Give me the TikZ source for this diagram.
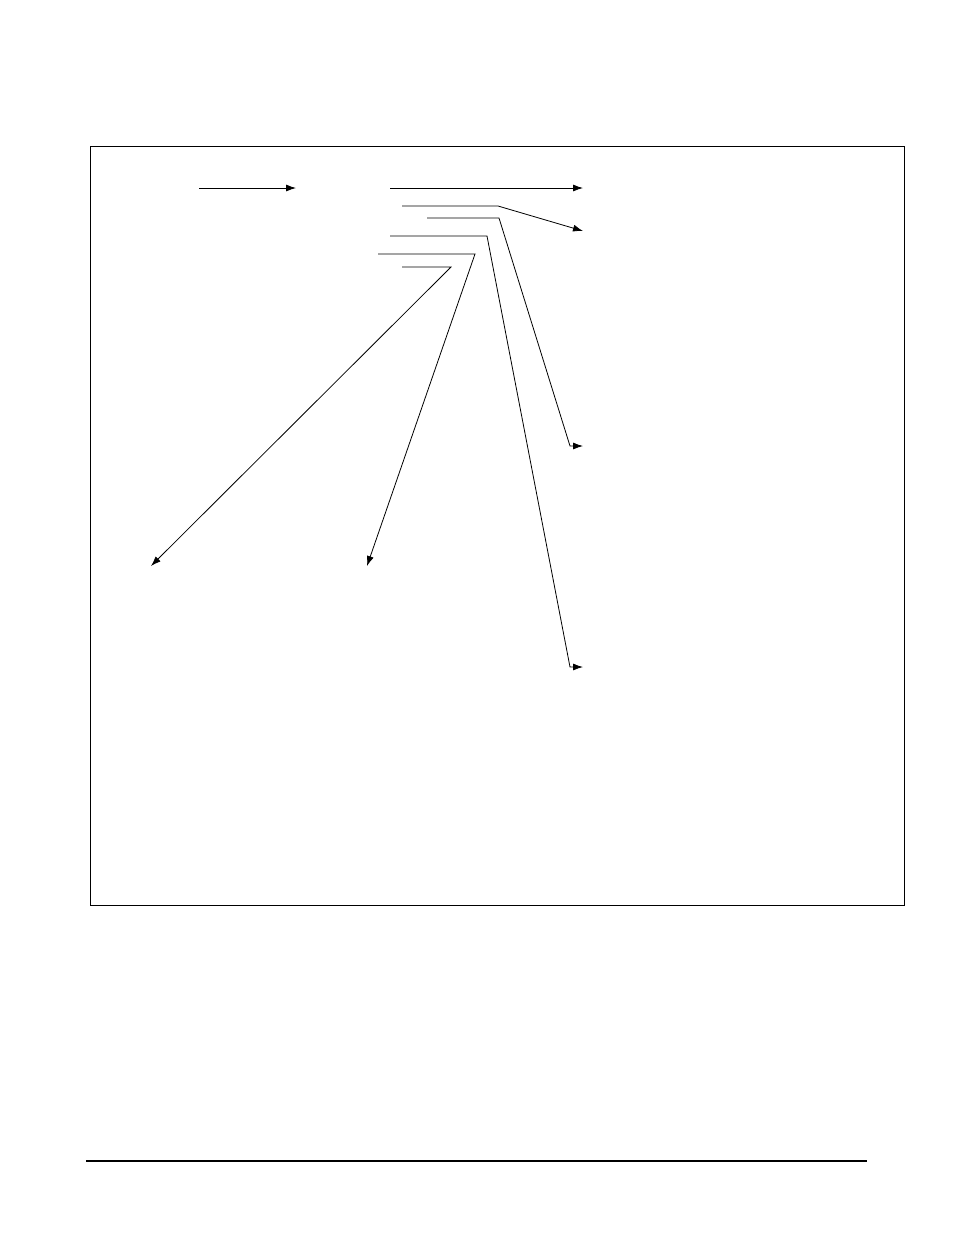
\documentclass[tikz,border=0pt]{standalone}
\usetikzlibrary{arrows.meta}
\tikzset{lead/.style={line width=0.8pt,-{Latex[length=10pt,width=7pt]}}}
\begin{document}
\begin{tikzpicture}[x=1pt,y=-1pt]
  \useasboundingbox (0,0) rectangle (954,1235);
  \draw[line width=0.8pt] (90,146) rectangle (904,905);
  % ends of the leads
  \coordinate (a0) at (199,188);  \coordinate (a1) at (296,188);
  \coordinate (b0) at (390,188);  \coordinate (b1) at (583,188);
  \coordinate (c0) at (402,206);  \coordinate (c1) at (498,206);
  \coordinate (c2) at (583,231);
  \coordinate (d0) at (427,218);  \coordinate (d1) at (499,218);
  \coordinate (d2) at (570,446);  \coordinate (d3) at (583,446);
  \coordinate (e0) at (390,236);  \coordinate (e1) at (487,236);
  \coordinate (e2) at (570,667);  \coordinate (e3) at (583,667);
  \coordinate (f0) at (378,254);  \coordinate (f1) at (475,254);
  \coordinate (f2) at (367,566);
  \coordinate (g0) at (402,267);  \coordinate (g1) at (451,267);
  \coordinate (g2) at (151,566);
  \draw[lead] (a0) -- (a1);
  \draw[lead] (b0) -- (b1);
  \draw[lead] (c0) -- (c1) -- (c2);
  \draw[lead] (d0) -- (d1) -- (d2) -- (d3);
  \draw[lead] (e0) -- (e1) -- (e2) -- (e3);
  \draw[lead] (f0) -- (f1) -- (f2);
  \draw[lead] (g0) -- (g1) -- (g2);
  % rule at the foot of the page
  \coordinate (r0) at (86,1161);  \coordinate (r1) at (867,1161);
  \draw[line width=1.3pt] (r0) -- (r1);
\end{tikzpicture}
\end{document}
